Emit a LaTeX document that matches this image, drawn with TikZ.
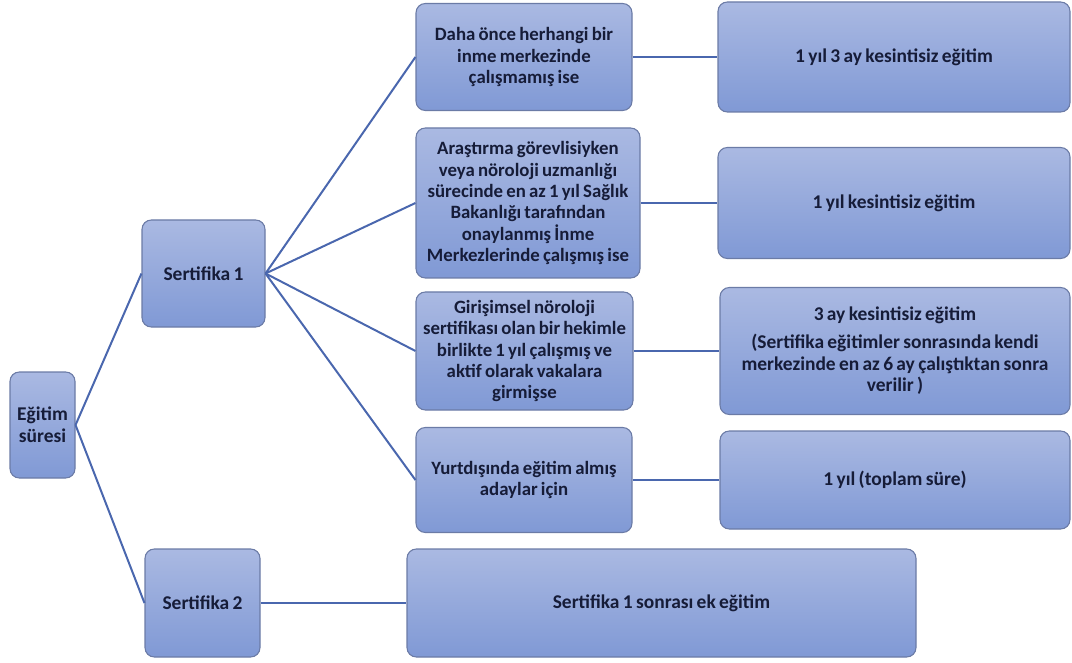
\documentclass[tikz,border=0pt]{standalone}
\usepackage{fontspec}
\setmainfont{Carlito}
\definecolor{boxtop}{HTML}{AAB9E2}
\definecolor{boxbot}{HTML}{8099D5}
\definecolor{boxline}{HTML}{6B7BA6}
\definecolor{txt}{HTML}{161C38}
\definecolor{conn}{HTML}{4A67AE}
\newcommand{\tightsp}{\spaceskip=0.17em plus 0.05em\relax}
\tikzset{
  bx/.style={rectangle, rounded corners=7pt, draw=boxline, line width=0.8pt,
    top color=boxtop, bottom color=boxbot, text=txt, align=center,
    font=\fontsize{14.6}{16.2}\selectfont\bfseries\tightsp, inner sep=1pt},
  midbx/.style={bx, font=\fontsize{14.1}{16}\selectfont\bfseries\tightsp},
  conn/.style={draw=conn, line width=1.5pt}
}
\begin{document}
\begin{tikzpicture}[x=0.75pt,y=-0.75pt]
\useasboundingbox (0,0) rectangle (1072,663);
\node[bx, minimum width=65*0.75pt, minimum height=106*0.75pt] (E) at (42.5,425) {Eğitim\\süresi};
\node[bx, minimum width=123*0.75pt, minimum height=107*0.75pt] (S1) at (203.5,273.5) {Sertifika 1};
\node[bx, minimum width=115*0.75pt, minimum height=108*0.75pt] (S2) at (202.5,603) {Sertifika 2};
\node[midbx, minimum width=216*0.75pt, minimum height=107*0.75pt] (A) at (524,57) {Daha önce herhangi bir\\inme merkezinde\\çalışmamış ise};
\node[midbx, minimum width=224*0.75pt, minimum height=150*0.75pt] (B) at (528,203) {Araştırma görevlisiyken\\veya nöroloji uzmanlığı\\sürecinde en az 1 yıl Sağlık\\Bakanlığı tarafından\\onaylanmış İnme\\Merkezlerinde çalışmış ise};
\node[midbx, minimum width=217*0.75pt, minimum height=118*0.75pt] (C) at (524.5,351) {Girişimsel nöroloji\\sertifikası olan bir hekimle\\birlikte 1 yıl çalışmış ve\\aktif olarak vakalara\\girmişse};
\node[midbx, minimum width=216*0.75pt, minimum height=105*0.75pt] (D) at (524,480) {Yurtdışında eğitim almış\\adaylar için};
\node[bx, minimum width=352*0.75pt, minimum height=110*0.75pt] (RA) at (894,57) {1 yıl 3 ay kesintisiz eğitim};
\node[bx, minimum width=352*0.75pt, minimum height=111*0.75pt] (RB) at (894,203) {1 yıl kesintisiz eğitim};
\node[bx, minimum width=350*0.75pt, minimum height=127*0.75pt] (RC) at (895,351) {3 ay kesintisiz eğitim\\[4.5pt](Sertifika eğitimler sonrasında kendi\\merkezinde en az 6 ay çalıştıktan sonra\\verilir )};
\node[bx, minimum width=350*0.75pt, minimum height=98*0.75pt] (RD) at (895,480) {1 yıl (toplam süre)};
\node[bx, minimum width=509*0.75pt, minimum height=108*0.75pt] (S2R) at (661.5,603) {Sertifika 1 sonrası ek eğitim};
\draw[conn] (E.east) -- (S1.west);
\draw[conn] (E.east) -- (S2.west);
\draw[conn] (S1.east) -- (A.west);
\draw[conn] (S1.east) -- (B.west);
\draw[conn] (S1.east) -- (C.west);
\draw[conn] (S1.east) -- (D.west);
\draw[conn] (A.east) -- (RA.west);
\draw[conn] (B.east) -- (RB.west);
\draw[conn] (C.east) -- (RC.west);
\draw[conn] (D.east) -- (RD.west);
\draw[conn] (S2.east) -- (S2R.west);
\end{tikzpicture}
\end{document}
